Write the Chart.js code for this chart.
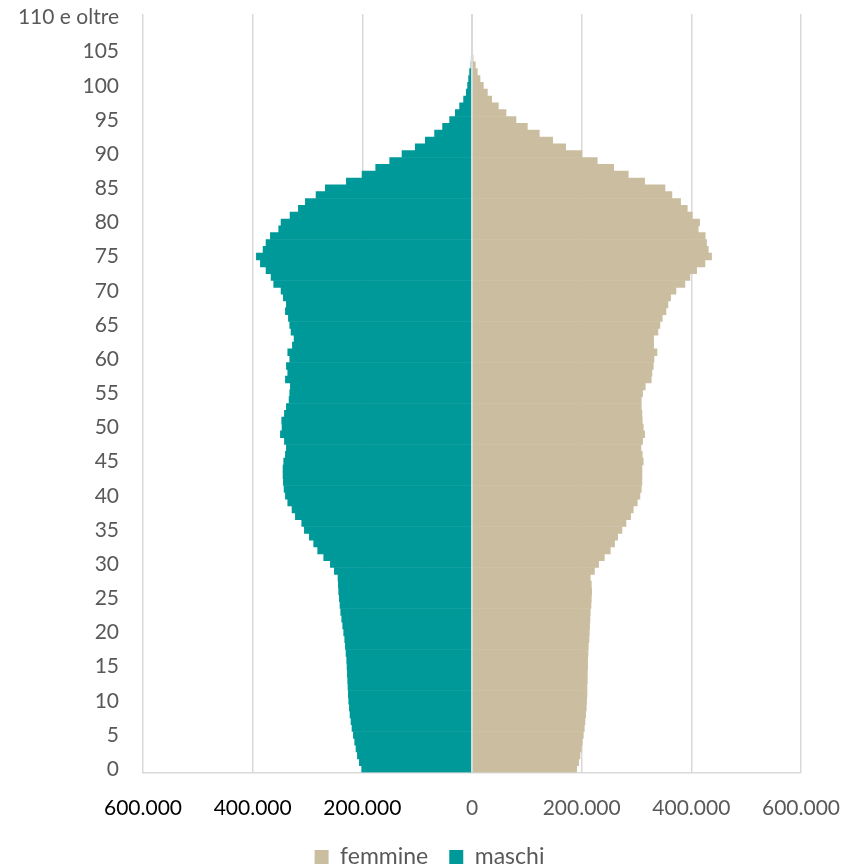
<!DOCTYPE html>
<html lang="it">
<head>
<meta charset="utf-8">
<title>Piramide per età</title>
<script src="https://cdn.jsdelivr.net/npm/chart.js@4/dist/chart.umd.min.js"></script>
<style>
  html, body { margin: 0; padding: 0; background: #ffffff; }
  #wrap { width: 843px; height: 867px; }
</style>
</head>
<body>
<div id="wrap"><canvas id="piramide" width="843" height="867"></canvas></div>
<script>
// Classi di età: 0 ... 109, poi la classe aperta finale
const eta = [];
for (let i = 0; i < 110; i++) eta.push(String(i));
eta.push('110 e oltre');

// Residenti maschi per singolo anno di età (0 ... 110 e oltre)
const maschi = [
  201200, 205400, 209000, 211500, 213900, 216300, 218800, 220600, 222400, 223600,
  224800, 225500, 226100, 226700, 227300, 227900, 228500, 229700, 230900, 232100,
  234000, 235800, 237600, 239400, 240700, 241900, 243100, 243700, 244300, 251000,
  258300, 270400, 281400, 288700, 296600, 305700, 310500, 322100, 328200, 336000,
  340300, 342700, 344000, 344600, 344600, 343400, 340300, 338500, 342100, 349400,
  346400, 347000, 342100, 338500, 333600, 332400, 331200, 340300, 336000, 338500,
  332400, 336000, 327500, 324500, 330000, 332400, 334800, 340300, 338500, 344000,
  348200, 361600, 366400, 375600, 385900, 393200, 381000, 375600, 367700, 352500,
  348200, 331800, 316600, 303900, 284400, 267400, 229100, 200500, 175600, 150100,
  127600, 103400, 85100, 68200, 53600, 40800, 30400, 22600, 15300, 10400,
  8000, 6200, 4400, 1800, 600, 0, 0, 0, 0, 0,
  0
];

// Residenti femmine per singolo anno di età (0 ... 110 e oltre)
const femmine = [
  190800, 194500, 196900, 199300, 201100, 203000, 204800, 206000, 207200, 208400,
  209000, 209700, 209700, 210300, 210300, 210900, 210900, 211500, 212100, 213300,
  213900, 214500, 215100, 215700, 217000, 217600, 218200, 217600, 215700, 223300,
  230900, 241300, 252200, 260000, 265600, 273500, 280800, 289300, 294100, 301400,
  306300, 308700, 309900, 309900, 309900, 312300, 310500, 308100, 311100, 314800,
  312300, 310500, 309900, 308700, 308700, 311100, 316000, 326900, 328200, 330600,
  331800, 337300, 331200, 331200, 339100, 342700, 347000, 353700, 357300, 362200,
  371900, 388300, 397400, 409600, 424800, 436900, 430900, 427800, 425400, 412600,
  415100, 401700, 392600, 380400, 364600, 351900, 314800, 285000, 258300, 228500,
  200500, 170800, 147100, 122800, 100900, 80200, 62000, 48000, 35900, 28000,
  20700, 14600, 9700, 6000, 2000, 0, 0, 0, 0, 0,
  0
];

// Valori dell'asse orizzontale
const tickValori = [-600000, -400000, -200000, 0, 200000, 400000, 600000];

const coloreFemmine = '#CBBEA0';
const coloreMaschi = '#009999';
const coloreGriglia = '#D9D9D9';
const coloreTesto = '#595959';

// Numero con separatore delle migliaia all'italiana
function formatoIt(n) {
  return String(Math.abs(n)).replace(/\B(?=(\d{3})+(?!\d))/g, '.');
}

// Linea verticale dello zero sopra le barre
const lineaZero = {
  id: 'lineaZero',
  afterDatasetsDraw(chart) {
    const { ctx, chartArea, scales } = chart;
    const x = Math.round(scales.x.getPixelForValue(0));
    ctx.save();
    ctx.strokeStyle = coloreGriglia;
    ctx.lineWidth = 2;
    ctx.beginPath();
    ctx.moveTo(x, chartArea.top);
    ctx.lineTo(x, chartArea.bottom);
    ctx.stroke();
    ctx.restore();
  }
};

new Chart(document.getElementById('piramide'), {
  type: 'bar',
  data: {
    labels: eta,
    datasets: [
      {
        label: 'femmine',
        data: femmine,
        backgroundColor: coloreFemmine,
        borderWidth: 0,
        barPercentage: 1,
        categoryPercentage: 1
      },
      {
        label: 'maschi',
        data: maschi.map(v => -v),
        backgroundColor: coloreMaschi,
        borderWidth: 0,
        barPercentage: 1,
        categoryPercentage: 1
      }
    ]
  },
  options: {
    indexAxis: 'y',
    responsive: false,
    animation: false,
    layout: { padding: { left: 16, right: 0, top: 0, bottom: -11.5 } },
    scales: {
      x: {
        stacked: true,
        min: -600000,
        max: 600000,
        afterBuildTicks(scale) {
          scale.ticks = tickValori.map(v => ({ value: v }));
        },
        afterFit(scale) {
          scale.height = 52;
          scale.paddingLeft = 0;
          scale.paddingRight = 42;
        },
        grid: { color: coloreGriglia, lineWidth: 1.5, drawTicks: false },
        border: { color: coloreGriglia, width: 1.5 },
        ticks: {
          padding: 23,
          font: { family: 'Lato', size: 21 },
          color: ctx => (ctx.tick && ctx.tick.value < 0 ? '#000000' : coloreTesto),
          callback: v => formatoIt(v)
        }
      },
      y: {
        stacked: true,
        reverse: true,
        afterFit(scale) {
          scale.width = 127;
          scale.paddingTop = 14;
          scale.paddingBottom = 0;
        },
        grid: { display: false, drawTicks: false },
        border: { display: false },
        ticks: {
          autoSkip: false,
          padding: 24,
          font: { family: 'Lato', size: 21 },
          color: coloreTesto,
          callback(value, index) {
            return index % 5 === 0 ? this.getLabelForValue(value) : '';
          }
        }
      }
    },
    plugins: {
      legend: {
        position: 'bottom',
        labels: {
          boxWidth: 14,
          boxHeight: 14,
          padding: 21,
          color: coloreTesto,
          font: { family: 'Lato', size: 23 }
        }
      },
      tooltip: { enabled: false }
    }
  },
  plugins: [lineaZero]
});
</script>
</body>
</html>
